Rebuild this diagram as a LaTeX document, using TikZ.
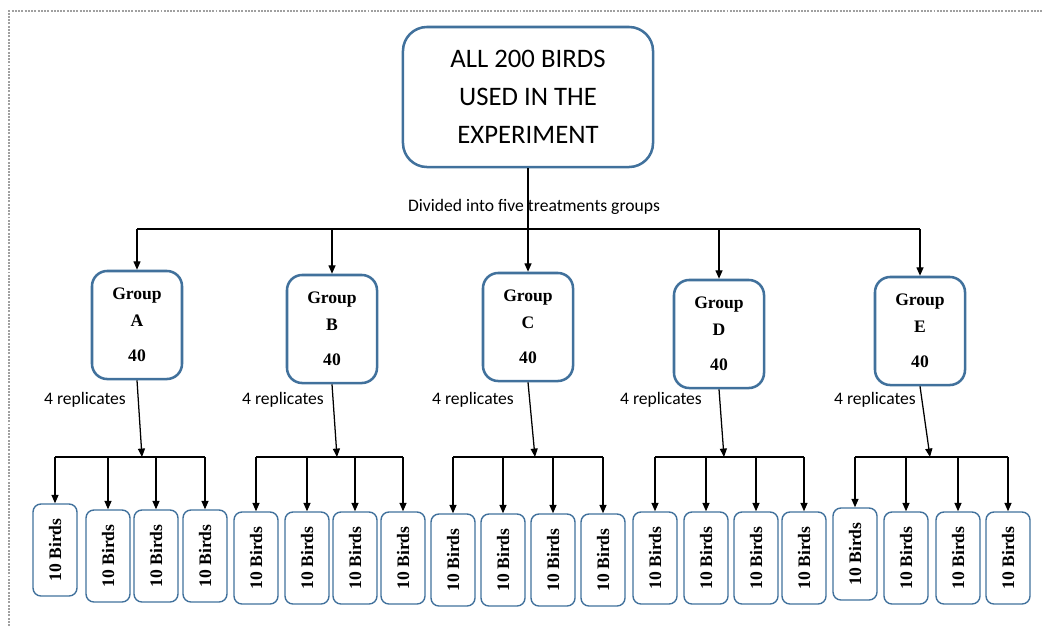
\documentclass[tikz,border=0pt]{standalone}
\usepackage{fontspec}
\setmainfont{Liberation Serif}
\newfontfamily\calibri{Carlito}
\usetikzlibrary{arrows.meta,positioning,calc}
\definecolor{boxblue}{HTML}{41719C}
\definecolor{dotgray}{HTML}{A0A0A0}
\tikzset{
  topbox/.style={draw=boxblue, line width=1.8pt, rounded corners=0.6cm, minimum width=6.25cm, minimum height=3.5cm, align=center, font=\calibri\fontsize{19}{27}\selectfont},
  groupbox/.style={draw=boxblue, line width=1.8pt, rounded corners=0.38cm, minimum width=2.25cm, minimum height=2.7cm, align=center, font=\bfseries\fontsize{12.5}{19}\selectfont},
  birdbox/.style={draw=boxblue, line width=1pt, rounded corners=0.2cm, minimum width=1.1cm, minimum height=2.3cm, inner sep=0pt, font=\bfseries\fontsize{12.5}{15}\selectfont},
  lbl/.style={font=\calibri\fontsize{12.5}{15}\selectfont, inner sep=1pt},
  conn/.style={line width=0.9pt},
  arr/.style={conn, -{Triangle[length=6pt,width=5pt]}},
  frameline/.style={dotgray, line width=0.8pt, dash pattern=on 1.4pt off 0.9pt}
}

\begin{document}
\begin{tikzpicture}[x=0.025cm,y=-0.025cm]
\useasboundingbox (0,0) rectangle (1043,626);
\draw[frameline] (9,626) -- (9,11) -- (1043,11);

\node[topbox] (all) at (528,97) {ALL 200 BIRDS\\USED IN THE\\EXPERIMENT};
\node[lbl] (divlbl) at (534,207) {Divided into five treatments groups};
\coordinate (split) at (528,229);
\draw[conn] (all.south) -- (split);

\foreach \n/\bx/\by in {A1/55/550, A2/108/556, A3/156/556, A4/205/556,
    B1/256/558, B2/307/558, B3/355/558, B4/403/558,
    C1/453/560, C2/503/560, C3/553/560, C4/603/560,
    D1/655/558, D2/706/558, D3/756/558, D4/804/558,
    E1/855/554, E2/906/558, E3/958/558, E4/1008/558}{
    \node[birdbox] (b\n) at (\bx,\by) {\rotatebox{90}{10 Birds}};
}

\foreach \g/\gx/\gy/\tx/\rx in {A/137/325/142/85, B/332/329/337/283, C/528/327/535/473, D/719/334/724/661, E/920/331/930/875}{
    \node[groupbox] (g\g) at (\gx,\gy) {Group\\\g\\[6pt]40};
    \draw[arr] (split -| g\g.north) -- (g\g.north);
    \node[lbl] (rep\g) at (\rx,400) {4 replicates};
    \coordinate (br\g) at (\tx,457);
    \draw[arr] (g\g.south) -- (br\g);
    \draw[conn] (b\g1.north |- br\g) -- (b\g4.north |- br\g);
    \foreach \k in {1,...,4}
        \draw[arr] (b\g\k.north |- br\g) -- (b\g\k.north);
}
\draw[conn] (split -| gA.north) -- (split -| gE.north);
\end{tikzpicture}
\end{document}
